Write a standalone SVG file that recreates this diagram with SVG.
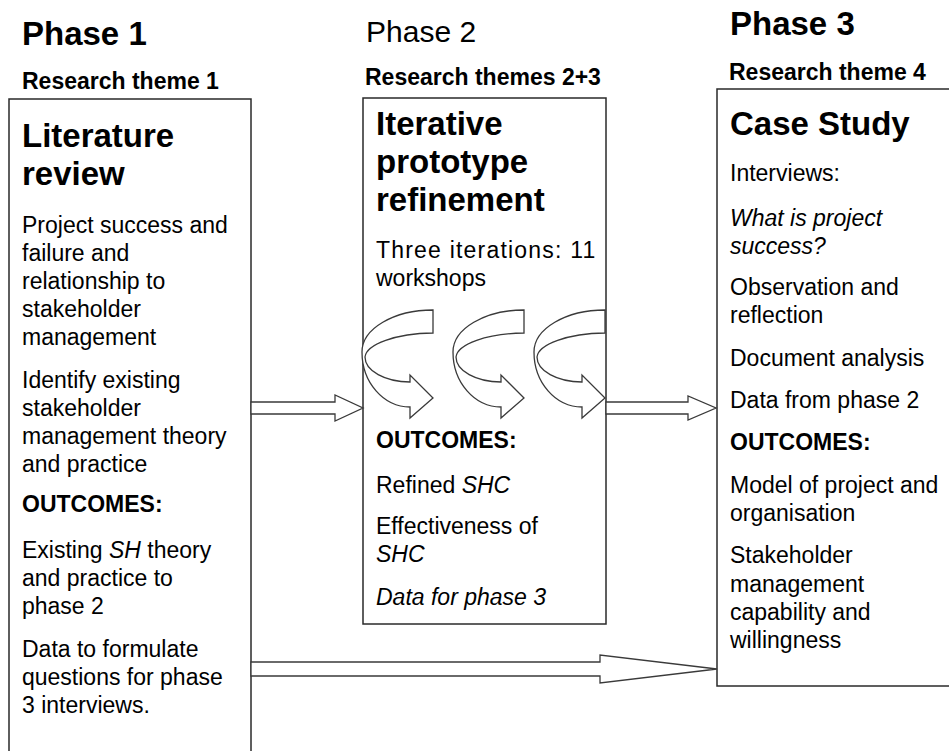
<svg xmlns="http://www.w3.org/2000/svg" width="949" height="751" viewBox="0 0 949 751">
<style>
text{font-family:"Liberation Sans",Arial,sans-serif;fill:#000}
.ph{font-size:33px;font-weight:bold}
.ph2{font-size:30px}
.rt{font-size:23px;font-weight:bold}
.tt{font-size:33px;font-weight:bold}
.b{font-size:23px}
.bb{font-size:23px;font-weight:bold}
.i{font-style:italic}
.box{fill:#fff;stroke:#2a2a2a;stroke-width:1.5}
.arr{fill:#fff;stroke:#3a3a3a;stroke-width:1.3;stroke-linejoin:miter}
</style>
<defs>
<path id="curl" class="arr" d="M433,310 V333 A71 25 0 0 0 365,357 A45 25 0 0 0 410,382 V375 L433,398 L410,418 V407 A48 55 0 0 1 362,352 A71 42 0 0 1 433,310 Z"/>
</defs>
<rect width="949" height="751" fill="#fff"/>
<g id="headers">
<text class="ph" x="22" y="45">Phase 1</text>
<text class="rt" x="22" y="89">Research theme 1</text>
<text class="ph2" x="366" y="42">Phase 2</text>
<text class="rt" x="365" y="85">Research themes 2+3</text>
<text class="ph" x="730" y="35">Phase 3</text>
<text class="rt" x="729" y="80">Research theme 4</text>
</g>
<g id="phase1">
<rect class="box" x="9" y="99" width="242" height="670"/>
<text class="tt" x="22" y="147">Literature</text>
<text class="tt" x="22" y="185">review</text>
<text class="b" x="22" y="233">Project success and</text>
<text class="b" x="22" y="261">failure and</text>
<text class="b" x="22" y="289">relationship to</text>
<text class="b" x="22" y="317">stakeholder</text>
<text class="b" x="22" y="345">management</text>
<text class="b" x="22" y="388">Identify existing</text>
<text class="b" x="22" y="416">stakeholder</text>
<text class="b" x="22" y="444">management theory</text>
<text class="b" x="22" y="472">and practice</text>
<text class="bb" x="22" y="512">OUTCOMES:</text>
<text class="b" x="22" y="558">Existing <tspan class="i">SH</tspan> theory</text>
<text class="b" x="22" y="586">and practice to</text>
<text class="b" x="22" y="614">phase 2</text>
<text class="b" x="22" y="657">Data to formulate</text>
<text class="b" x="22" y="685">questions for phase</text>
<text class="b" x="22" y="713">3 interviews.</text>
</g>
<g id="phase2">
<rect class="box" x="363" y="98" width="243" height="526"/>
<text class="tt" x="376" y="135">Iterative</text>
<text class="tt" x="376" y="173">prototype</text>
<text class="tt" x="376" y="211">refinement</text>
<text class="b" x="376" y="258" letter-spacing="1.2">Three iterations: 11</text>
<text class="b" x="376" y="286">workshops</text>
<text class="bb" x="376" y="448">OUTCOMES:</text>
<text class="b" x="376" y="493">Refined <tspan class="i">SHC</tspan></text>
<text class="b" x="376" y="534">Effectiveness of</text>
<text class="b i" x="376" y="562">SHC</text>
<text class="b i" x="376" y="605">Data for phase 3</text>
</g>
<g id="phase3">
<rect class="box" x="717" y="89" width="250" height="597"/>
<text class="tt" x="730" y="135">Case Study</text>
<text class="b" x="730" y="181">Interviews:</text>
<text class="b i" x="730" y="226">What is project</text>
<text class="b i" x="730" y="254">success?</text>
<text class="b" x="730" y="295">Observation and</text>
<text class="b" x="730" y="323">reflection</text>
<text class="b" x="730" y="366">Document analysis</text>
<text class="b" x="730" y="408">Data from phase 2</text>
<text class="bb" x="730" y="450">OUTCOMES:</text>
<text class="b" x="730" y="493">Model of project and</text>
<text class="b" x="730" y="521">organisation</text>
<text class="b" x="730" y="563">Stakeholder</text>
<text class="b" x="730" y="592">management</text>
<text class="b" x="730" y="620">capability and</text>
<text class="b" x="730" y="648">willingness</text>
</g>
<g id="connectors">
<path class="arr" d="M251,402 H335 V395 L363,408 L335,421 V414 H251 Z"/>
<path class="arr" d="M606,402 H688 V396 L716,408 L688,420 V414 H606 Z"/>
<path class="arr" d="M251,662 H600 V655 L717,669 L600,683 V676 H251 Z"/>
<use href="#curl"/>
<use href="#curl" transform="translate(91,0)"/>
<use href="#curl" transform="translate(172,0)"/>
</g>
</svg>
